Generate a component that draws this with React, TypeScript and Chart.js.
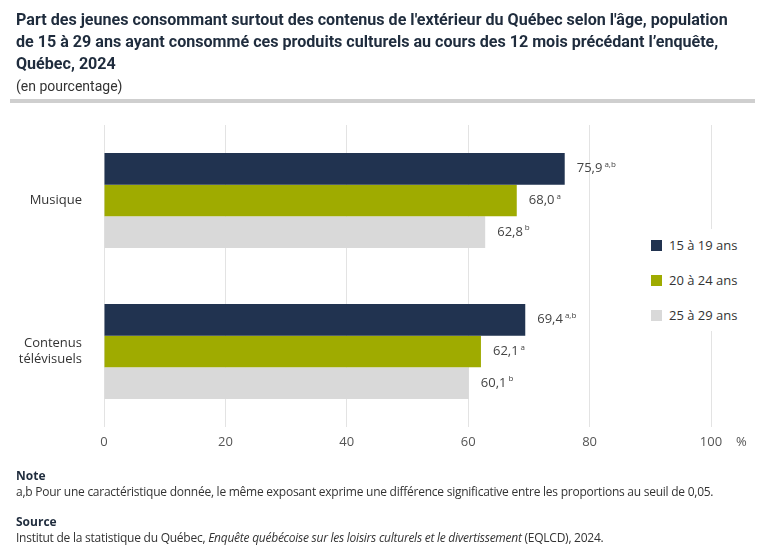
import React, { useEffect, useRef } from "react";
import { Chart, registerables } from "chart.js";

Chart.register(...registerables);

const categories: (string | string[])[] = ["Musique", ["Contenus", "télévisuels"]];
const seriesNames = ["15 à 19 ans", "20 à 24 ans", "25 à 29 ans"];
const values15to19 = [75.9, 69.4];
const values20to24 = [68.0, 62.1];
const values25to29 = [62.8, 60.1];
const exponents15to19 = ["a,b", "a,b"];
const exponents20to24 = ["a", "a"];
const exponents25to29 = ["b", "b"];
const xTicks = [0, 20, 40, 60, 80, 100];
const titleLines = [
  "Part des jeunes consommant surtout des contenus de l'extérieur du Québec selon l'âge, population",
  "de 15 à 29 ans ayant consommé ces produits culturels au cours des 12 mois précédant l’enquête,",
  "Québec, 2024",
];

const colors = ["#213350", "#9fab00", "#d9d9d9"];
const FONT = "'Open Sans', sans-serif";

const valueLabels = {
  id: "valueLabels",
  afterDatasetsDraw(chart: any) {
    const ctx = chart.ctx;
    const exps = [exponents15to19, exponents20to24, exponents25to29];
    chart.data.datasets.forEach((ds: any, di: number) => {
      const meta = chart.getDatasetMeta(di);
      meta.data.forEach((el: any, i: number) => {
        const v = ds.data[i] as number;
        const txt = v.toFixed(1).replace(".", ",");
        ctx.save();
        ctx.fillStyle = "#444";
        ctx.textBaseline = "middle";
        ctx.textAlign = "left";
        ctx.font = `13px ${FONT}`;
        const x = el.x + 12;
        ctx.fillText(txt, x, el.y);
        const w = ctx.measureText(txt).width;
        ctx.font = `8px ${FONT}`;
        ctx.fillText(exps[di][i], x + w + 2, el.y - 4);
        ctx.restore();
      });
    });
  },
};

function ChartCanvas() {
  const ref = useRef<HTMLCanvasElement>(null);
  useEffect(() => {
    if (!ref.current) return;
    const chart = new Chart(ref.current, {
      type: "bar",
      data: {
        labels: categories as any,
        datasets: [
          { label: seriesNames[0], data: values15to19, backgroundColor: colors[0] },
          { label: seriesNames[1], data: values20to24, backgroundColor: colors[1] },
          { label: seriesNames[2], data: values25to29, backgroundColor: colors[2] },
        ],
      },
      options: {
        indexAxis: "y",
        animation: false,
        responsive: false,
        maintainAspectRatio: false,
        layout: { padding: { left: 0, right: 57, top: 125, bottom: 0 } },
        datasets: { bar: { categoryPercentage: 0.63, barPercentage: 1 } },
        plugins: { legend: { display: false }, tooltip: { enabled: false } },
        scales: {
          x: {
            min: 0,
            max: 100,
            afterBuildTicks: (s: any) => {
              s.ticks = xTicks.map((v) => ({ value: v }));
            },
            afterFit: (s: any) => {
              s.height = 131;
            },
            grid: { color: "#e3e3e3", drawTicks: false },
            border: { display: false },
            ticks: { color: "#555", font: { family: FONT, size: 13 }, padding: 7 },
          },
          y: {
            afterFit: (s: any) => {
              s.width = 104;
            },
            grid: { display: false, drawTicks: false },
            border: { display: false },
            ticks: { color: "#333", font: { family: FONT, size: 13 }, padding: 22 },
          },
        },
      },
      plugins: [valueLabels],
    });
    return () => chart.destroy();
  }, []);
  return <canvas ref={ref} width={768} height={558} style={{ position: "absolute", left: 0, top: 0 }} />;
}

export default function App() {
  const abs = (s: React.CSSProperties): React.CSSProperties => ({ position: "absolute", margin: 0, ...s });
  return (
    <div style={{ position: "fixed", left: 0, top: 0, width: 768, height: 558, background: "#fff", overflow: "hidden", fontFamily: FONT }}>
      <ChartCanvas />
      <div style={abs({ left: 16, top: 9, width: 750, fontFamily: "Roboto, sans-serif", fontWeight: 700, fontSize: 16.1, lineHeight: "22px", color: "#1f2c3d", whiteSpace: "nowrap" })}>
        {titleLines.map((l) => (
          <div key={l}>{l}</div>
        ))}
      </div>
      <div style={abs({ left: 16, top: 78, fontFamily: "Roboto, sans-serif", fontSize: 14, color: "#333" })}>(en pourcentage)</div>
      <div style={abs({ left: 10, top: 99, width: 745, height: 4, background: "#cfcfcf" })} />
      <div style={abs({ left: 641, top: 229, width: 104, height: 102, background: "#fff" })}>
        {seriesNames.map((n, i) => (
          <div key={n} style={abs({ left: 10, top: 8 + i * 35, height: 16, display: "flex", alignItems: "center", whiteSpace: "nowrap", fontSize: 13, color: "#333" })}>
            <span style={{ display: "inline-block", width: 11, height: 11, background: colors[i], marginRight: 7 }} />
            {n}
          </div>
        ))}
      </div>
      <div style={abs({ left: 736, top: 432, fontSize: 13, color: "#555" })}>%</div>
      <div style={abs({ left: 16, top: 467, fontSize: 12, fontWeight: 700, color: "#1f2c3d" })}>Note</div>
      <div style={abs({ left: 16, top: 483, fontSize: 12, color: "#333", whiteSpace: "nowrap", letterSpacing: -0.25 })}>
        a,b Pour une caractéristique donnée, le même exposant exprime une différence significative entre les proportions au seuil de 0,05.
      </div>
      <div style={abs({ left: 16, top: 513, fontSize: 12, fontWeight: 700, color: "#1f2c3d" })}>Source</div>
      <div style={abs({ left: 16, top: 529, fontSize: 12, color: "#333", whiteSpace: "nowrap", letterSpacing: -0.25 })}>
        Institut de la statistique du Québec, <i>Enquête québécoise sur les loisirs culturels et le divertissement</i> (EQLCD), 2024.
      </div>
    </div>
  );
}
